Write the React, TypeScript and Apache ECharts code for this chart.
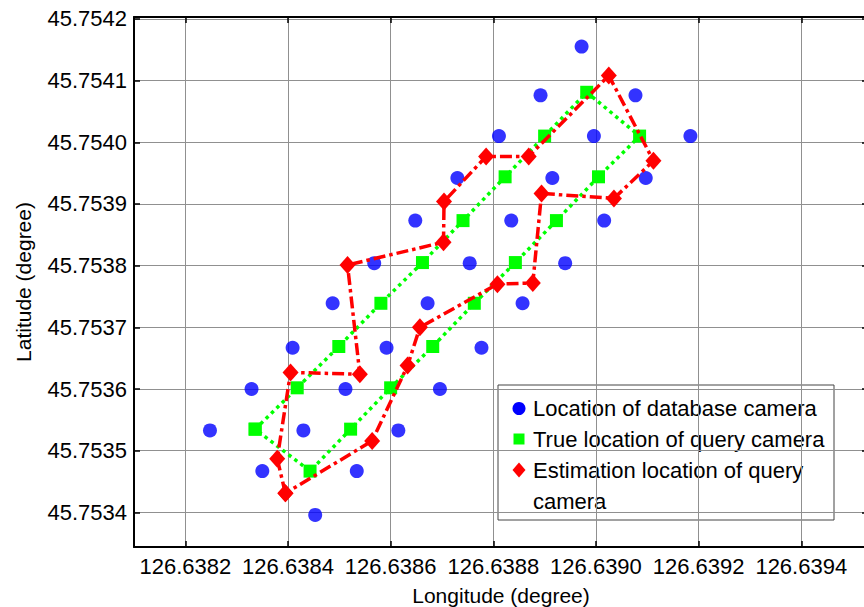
import React, { useEffect, useRef } from "react";
import * as echarts from "echarts";

// Location of database camera
const dbLon = [126.638972, 126.638892, 126.639077, 126.638811, 126.638996, 126.639184, 126.63873, 126.638915, 126.639097, 126.638648, 126.638835, 126.639016, 126.638568, 126.638754, 126.63894, 126.638487, 126.638672, 126.638857, 126.638409, 126.638592, 126.638777, 126.638329, 126.638512, 126.638696, 126.638248, 126.63843, 126.638615, 126.63835, 126.638534, 126.638453];
const dbLat = [45.754155, 45.754076, 45.754076, 45.75401, 45.75401, 45.75401, 45.753942, 45.753942, 45.753942, 45.753873, 45.753873, 45.753873, 45.753804, 45.753804, 45.753804, 45.753739, 45.753739, 45.753739, 45.753667, 45.753667, 45.753667, 45.7536, 45.7536, 45.7536, 45.753533, 45.753533, 45.753533, 45.753467, 45.753467, 45.753396];

// True location of query camera (closed loop)
const trueLon = [126.638336, 126.638418, 126.638499, 126.638581, 126.638662, 126.638741, 126.638823, 126.6389, 126.638982, 126.639085, 126.639005, 126.638923, 126.638843, 126.638763, 126.638682, 126.6386, 126.638522, 126.638443];
const trueLat = [45.753535, 45.753602, 45.753669, 45.753739, 45.753805, 45.753873, 45.753944, 45.75401, 45.754081, 45.75401, 45.753944, 45.753873, 45.753805, 45.753739, 45.753669, 45.753602, 45.753535, 45.753467];

// Estimation location of query camera (closed loop)
const estLon = [126.638395, 126.638379, 126.638405, 126.63854, 126.638516, 126.638703, 126.638704, 126.638786, 126.638869, 126.639025, 126.639112, 126.639035, 126.638894, 126.638877, 126.638808, 126.638657, 126.638633, 126.638564];
const estLat = [45.753431, 45.753487, 45.753627, 45.753624, 45.753801, 45.753838, 45.753904, 45.753977, 45.753977, 45.754108, 45.75397, 45.753909, 45.753917, 45.753772, 45.75377, 45.7537, 45.753638, 45.753516];

const seriesNames = [
  "Location of database camera",
  "True location of query camera",
  "Estimation location of query",
  "camera",
];

const xRange = [126.6381, 126.63953];
const yRange = [45.753344, 45.754203];

const FONT = 'Arial, "Liberation Sans", Helvetica, sans-serif';

const pairs = (xs: number[], ys: number[]) => xs.map((x, i) => [x, ys[i]]);
const closed = (xs: number[], ys: number[]) => {
  const p = pairs(xs, ys);
  return [...p, p[0]];
};

export default function App() {
  const ref = useRef<HTMLDivElement>(null);
  useEffect(() => {
    if (!ref.current) return;
    const chart = echarts.init(ref.current, undefined, { renderer: "svg" });
    const axisLine = { show: true, lineStyle: { color: "#000", width: 2 } };
    const tick = { show: true, inside: true, length: 6, lineStyle: { color: "#000", width: 1.5 } };
    chart.setOption({
      animation: false,
      backgroundColor: "#fff",
      grid: { left: 134, top: 17, right: -4, bottom: 60, containLabel: false, outerBoundsMode: "none" },
      xAxis: [
        {
          type: "value",
          position: "bottom",
          min: xRange[0],
          max: xRange[1],
          splitNumber: 7,
          name: "Longitude (degree)",
          nameLocation: "middle",
          nameGap: 38,
          nameTextStyle: { fontFamily: FONT, fontSize: 21, color: "#000" },
          axisLine,
          axisTick: tick,
          axisLabel: {
            fontFamily: FONT,
            fontSize: 22,
            color: "#000",
            margin: 8,
            showMinLabel: false,
            showMaxLabel: false,
            formatter: (v: number) => v.toFixed(4),
          },
          splitLine: { show: true, lineStyle: { color: "#909090", width: 1 } },
        },
        {
          type: "value",
          position: "top",
          min: xRange[0],
          max: xRange[1],
          splitNumber: 7,
          axisLine,
          axisTick: tick,
          axisLabel: { show: false },
          splitLine: { show: false },
        },
      ],
      yAxis: [
        {
          type: "value",
          position: "left",
          min: yRange[0],
          max: yRange[1],
          splitNumber: 8,
          name: "Latitude (degree)",
          nameLocation: "middle",
          nameGap: 100,
          nameTextStyle: { fontFamily: FONT, fontSize: 21, color: "#000" },
          axisLine,
          axisTick: tick,
          axisLabel: {
            fontFamily: FONT,
            fontSize: 22,
            color: "#000",
            margin: 7,
            showMinLabel: false,
            showMaxLabel: false,
            formatter: (v: number) => v.toFixed(4),
          },
          splitLine: { show: true, lineStyle: { color: "#909090", width: 1 } },
        },
        {
          type: "value",
          position: "right",
          min: yRange[0],
          max: yRange[1],
          splitNumber: 8,
          axisLine,
          axisTick: tick,
          axisLabel: { show: false },
          splitLine: { show: false },
        },
      ],
      series: [
        {
          name: seriesNames[0],
          type: "scatter",
          data: pairs(dbLon, dbLat),
          symbol: "circle",
          symbolSize: 14,
          itemStyle: { color: "#0000ff" },
          z: 2,
        },
        {
          name: seriesNames[1],
          type: "line",
          data: closed(trueLon, trueLat),
          symbol: "rect",
          symbolSize: 13,
          showAllSymbol: true,
          itemStyle: { color: "#00ff00" },
          lineStyle: { color: "#00ff00", width: 3.5, type: [3.5, 4] },
          z: 3,
        },
        {
          name: seriesNames[2] + " " + seriesNames[3],
          type: "line",
          data: closed(estLon, estLat),
          symbol: "diamond",
          symbolSize: [16, 18],
          showAllSymbol: true,
          itemStyle: { color: "#ff0000" },
          lineStyle: { color: "#ff0000", width: 3.5, type: [12, 4, 3.5, 4] },
          z: 4,
        },
      ],
      graphic: [
        {
          type: "group",
          z: 100,
          children: [
            { type: "rect", shape: { x: 498, y: 385, width: 336, height: 135 }, style: { fill: "#fff", stroke: "#444", lineWidth: 1 } },
            { type: "circle", shape: { cx: 519, cy: 408.5, r: 6.5 }, style: { fill: "#0000ff" } },
            { type: "rect", shape: { x: 513.5, y: 433.5, width: 11, height: 11 }, style: { fill: "#00ff00" } },
            { type: "polygon", shape: { points: [[519, 462.5], [525.5, 470], [519, 477.5], [512.5, 470]] }, style: { fill: "#ff0000" } },
            { type: "text", x: 533, y: 408.5, style: { text: seriesNames[0], font: `22px ${FONT}`, fill: "#000", verticalAlign: "middle" } },
            { type: "text", x: 533, y: 439.5, style: { text: seriesNames[1], font: `22px ${FONT}`, fill: "#000", verticalAlign: "middle" } },
            { type: "text", x: 533, y: 470, style: { text: seriesNames[2], font: `22px ${FONT}`, fill: "#000", verticalAlign: "middle" } },
            { type: "text", x: 533, y: 501, style: { text: seriesNames[3], font: `22px ${FONT}`, fill: "#000", verticalAlign: "middle" } },
          ],
        },
      ],
    });
    return () => chart.dispose();
  }, []);
  return (
    <div
      ref={ref}
      style={{ position: "absolute", left: 0, top: 0, width: 864, height: 607, overflow: "hidden", background: "#fff" }}
    />
  );
}
